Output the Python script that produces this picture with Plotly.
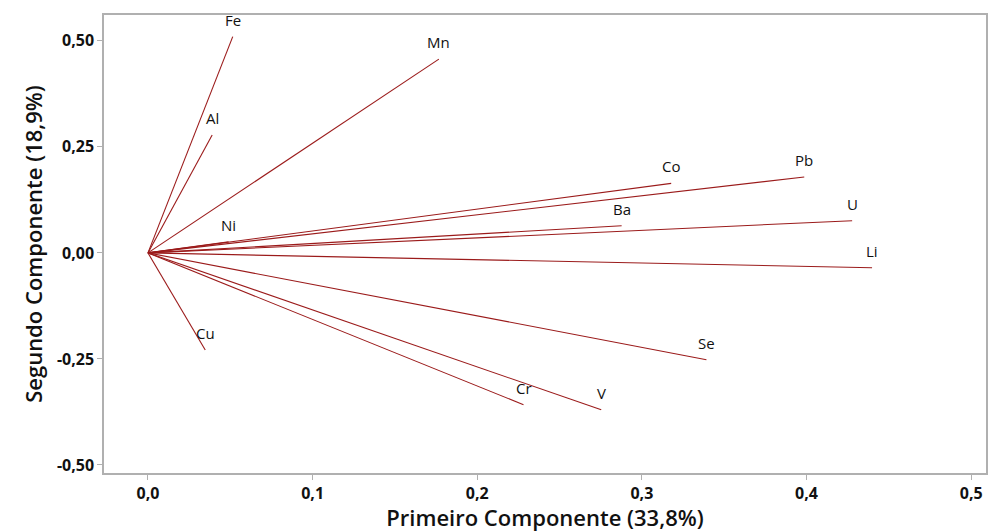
import plotly.graph_objects as go

variables = ["Fe", "Al", "Mn", "Co", "Pb", "U", "Li", "Ba", "Ni", "Se", "Cr", "V", "Cu"]
pc1 = [0.0515, 0.039, 0.1767, 0.3178, 0.3986, 0.4277, 0.4398, 0.2877, 0.049, 0.3392, 0.2281, 0.2753, 0.0348]
pc2 = [0.510, 0.278, 0.457, 0.164, 0.179, 0.076, -0.035, 0.064, 0.026, -0.252, -0.358, -0.370, -0.229]

xticks = [0.0, 0.1, 0.2, 0.3, 0.4, 0.5]
xticklabels = ["0,0", "0,1", "0,2", "0,3", "0,4", "0,5"]
yticks = [-0.50, -0.25, 0.0, 0.25, 0.50]
yticklabels = ["-0,50", "-0,25", "0,00", "0,25", "0,50"]

line_color = "#9b1b1b"
font_family = "Open Sans, Noto Sans, sans-serif"

fig = go.Figure()
for name, x, y in zip(variables, pc1, pc2):
    fig.add_trace(go.Scatter(x=[0, x], y=[0, y], mode="lines",
                             line=dict(color=line_color, width=1.1),
                             name=name, showlegend=False, hoverinfo="skip"))

for name, x, y in zip(variables, pc1, pc2):
    fig.add_annotation(x=x, y=y, text=name, showarrow=False, yshift=17,
                       font=dict(family=font_family, size=15, color="#111111"))

fig.update_layout(
    width=989, height=532,
    margin=dict(l=104, r=1, t=15, b=59),
    paper_bgcolor="white", plot_bgcolor="white",
    font=dict(family=font_family, color="#111111"),
    showlegend=False,
)
fig.update_xaxes(
    range=[-0.0267, 0.509], tickvals=xticks, ticktext=xticklabels,
    showgrid=False, zeroline=False,
    showline=True, linecolor="#b0b0b0", linewidth=1.5, mirror=True,
    ticks="outside", ticklen=5, tickcolor="#b0b0b0",
    tickfont=dict(family=font_family, size=16, color="#111111", weight="bold"),
    title=dict(text="Primeiro Componente (33,8%)", standoff=8,
               font=dict(family=font_family, size=22, color="#111111", weight=600)),
)
fig.update_yaxes(
    range=[-0.519, 0.561], tickvals=yticks, ticktext=yticklabels,
    showgrid=False, zeroline=False,
    showline=True, linecolor="#b0b0b0", linewidth=1.5, mirror=True,
    ticks="outside", ticklen=5, tickcolor="#b0b0b0",
    tickfont=dict(family=font_family, size=16, color="#111111", weight="bold"),
    title=dict(text="Segundo Componente (18,9%)", standoff=8,
               font=dict(family=font_family, size=22, color="#111111", weight=600)),
)

fig.write_html("out.html")
